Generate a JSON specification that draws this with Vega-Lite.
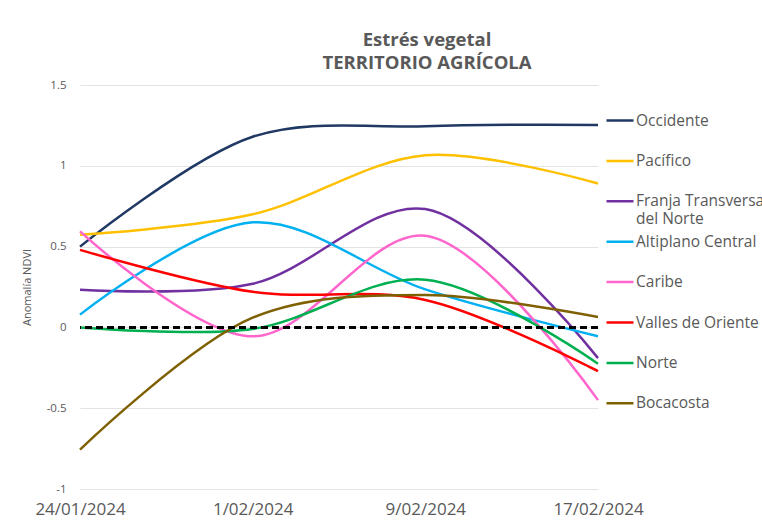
{
  "$schema": "https://vega.github.io/schema/vega-lite/v6.json",
  "width": 518,
  "height": 404,
  "autosize": {"type": "none"},
  "padding": {"left": 80, "top": 85, "right": 164, "bottom": 34},
  "background": "white",
  "title": {
    "text": ["Estrés vegetal", "TERRITORIO AGRÍCOLA"],
    "anchor": "middle",
    "dx": 88,
    "offset": 7,
    "font": "Open Sans",
    "fontSize": 18.5,
    "fontWeight": "bold",
    "lineHeight": 23,
    "color": "#595959"
  },
  "config": {
    "view": {"stroke": null},
    "font": "Open Sans"
  },
  "data": {
    "values": [
      {"fecha": "24/01/2024", "region": "Occidente", "valor": 0.50},
      {"fecha": "1/02/2024", "region": "Occidente", "valor": 1.18},
      {"fecha": "9/02/2024", "region": "Occidente", "valor": 1.245},
      {"fecha": "17/02/2024", "region": "Occidente", "valor": 1.253},
      {"fecha": "24/01/2024", "region": "Pacífico", "valor": 0.573},
      {"fecha": "1/02/2024", "region": "Pacífico", "valor": 0.70},
      {"fecha": "9/02/2024", "region": "Pacífico", "valor": 1.065},
      {"fecha": "17/02/2024", "region": "Pacífico", "valor": 0.89},
      {"fecha": "24/01/2024", "region": "Franja Transversal del Norte", "valor": 0.233},
      {"fecha": "1/02/2024", "region": "Franja Transversal del Norte", "valor": 0.27},
      {"fecha": "9/02/2024", "region": "Franja Transversal del Norte", "valor": 0.732},
      {"fecha": "17/02/2024", "region": "Franja Transversal del Norte", "valor": -0.19},
      {"fecha": "24/01/2024", "region": "Altiplano Central", "valor": 0.079},
      {"fecha": "1/02/2024", "region": "Altiplano Central", "valor": 0.65},
      {"fecha": "9/02/2024", "region": "Altiplano Central", "valor": 0.235},
      {"fecha": "17/02/2024", "region": "Altiplano Central", "valor": -0.055},
      {"fecha": "24/01/2024", "region": "Caribe", "valor": 0.594},
      {"fecha": "1/02/2024", "region": "Caribe", "valor": -0.055},
      {"fecha": "9/02/2024", "region": "Caribe", "valor": 0.567},
      {"fecha": "17/02/2024", "region": "Caribe", "valor": -0.45},
      {"fecha": "24/01/2024", "region": "Valles de Oriente", "valor": 0.48},
      {"fecha": "1/02/2024", "region": "Valles de Oriente", "valor": 0.22},
      {"fecha": "9/02/2024", "region": "Valles de Oriente", "valor": 0.17},
      {"fecha": "17/02/2024", "region": "Valles de Oriente", "valor": -0.27},
      {"fecha": "24/01/2024", "region": "Norte", "valor": 0.0},
      {"fecha": "1/02/2024", "region": "Norte", "valor": -0.01},
      {"fecha": "9/02/2024", "region": "Norte", "valor": 0.295},
      {"fecha": "17/02/2024", "region": "Norte", "valor": -0.225},
      {"fecha": "24/01/2024", "region": "Bocacosta", "valor": -0.756},
      {"fecha": "1/02/2024", "region": "Bocacosta", "valor": 0.06},
      {"fecha": "9/02/2024", "region": "Bocacosta", "valor": 0.20},
      {"fecha": "17/02/2024", "region": "Bocacosta", "valor": 0.064}
    ]
  },
  "layer": [
    {
      "mark": {"type": "line", "interpolate": "catmull-rom", "strokeWidth": 2.5},
      "encoding": {
        "x": {
          "field": "fecha",
          "type": "ordinal",
          "sort": null,
          "scale": {"type": "point", "padding": 0},
          "axis": {
            "title": null,
            "domain": false,
            "ticks": false,
            "grid": false,
            "labelAngle": 0,
            "labelFont": "Open Sans",
            "labelFontSize": 17,
            "labelColor": "#595959",
            "labelPadding": 12
          }
        },
        "y": {
          "field": "valor",
          "type": "quantitative",
          "scale": {"domain": [-1, 1.5], "nice": false, "zero": false},
          "axis": {
            "title": "Anomalía NDVI",
            "values": [-1, -0.5, 0, 0.5, 1, 1.5],
            "labelExpr": "'' + datum.value",
            "domain": false,
            "ticks": false,
            "grid": true,
            "gridColor": "#e3e3e3",
            "gridWidth": 1,
            "labelFont": "Open Sans",
            "labelFontSize": 11.5,
            "labelColor": "#595959",
            "labelPadding": 14,
            "titleFont": "Open Sans",
            "titleFontSize": 11,
            "titleFontWeight": "normal",
            "titleColor": "#595959",
            "titlePadding": 14
          }
        },
        "color": {
          "field": "region",
          "type": "nominal",
          "scale": {
            "domain": ["Occidente", "Pacífico", "Franja Transversal del Norte", "Altiplano Central", "Caribe", "Valles de Oriente", "Norte", "Bocacosta"],
            "range": ["#1f3864", "#ffc000", "#7030a0", "#00b0f0", "#ff66cc", "#ff0000", "#00b050", "#7f6000"]
          },
          "legend": {
            "title": null,
            "orient": "none",
            "legendX": 525,
            "legendY": 23,
            "padding": 0,
            "clipHeight": 25,
            "symbolType": "stroke",
            "symbolSize": 729,
            "symbolStrokeWidth": 2.5,
            "labelFont": "Open Sans",
            "labelFontSize": 15.5,
            "labelColor": "#595959",
            "labelOffset": 1,
            "labelLimit": 400,
            "rowPadding": 1.4,
            "labelExpr": "datum.label == 'Franja Transversal del Norte' ? ['Franja Transversal', 'del Norte'] : [datum.label, '']"
          }
        }
      }
    },
    {
      "mark": {"type": "rule", "color": "black", "strokeWidth": 2.5, "strokeDash": [7, 4]},
      "encoding": {"y": {"datum": 0}}
    }
  ]
}
